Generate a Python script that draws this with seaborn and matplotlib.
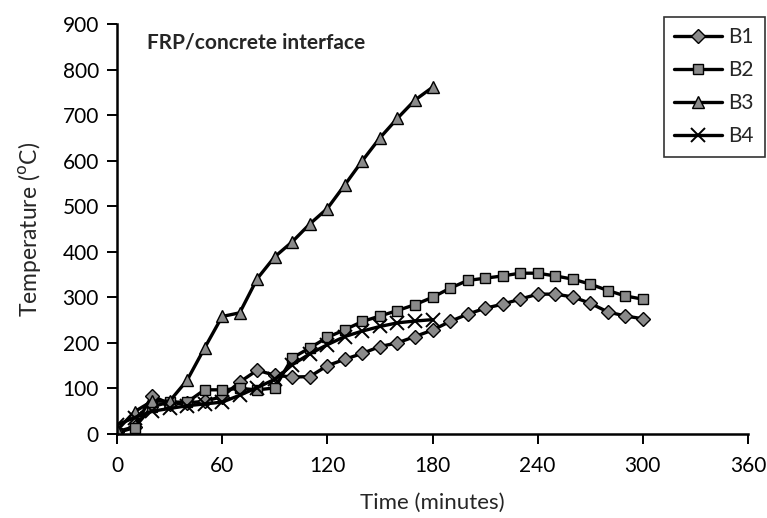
import numpy as np
import pandas as pd
import matplotlib
matplotlib.use("Agg")
import matplotlib.pyplot as plt
import seaborn as sns
from matplotlib.lines import Line2D

# ---- data ----
t_b1 = list(range(0, 301, 10))
b1 = [5, 16, 84, 66, 68, 72, 82, 114, 140, 129, 125, 126, 150, 164, 177, 192, 200, 214, 228,
      247, 263, 276, 285, 296, 307, 307, 301, 287, 268, 259, 253]
t_b2 = list(range(0, 301, 10))
b2 = [3, 14, 60, 70, 70, 97, 97, 100, 97, 101, 167, 189, 212, 229, 247, 259, 271, 284, 300,
      320, 337, 342, 347, 353, 353, 347, 340, 329, 315, 303, 296]
t_b3 = list(range(0, 181, 10))
b3 = [8, 49, 72, 72, 118, 189, 258, 266, 341, 389, 422, 461, 495, 547, 600, 650, 693, 733, 761]
t_b4 = list(range(0, 181, 10))
b4 = [20, 36, 50, 56, 62, 66, 70, 85, 102, 120, 152, 176, 196, 214, 226, 236, 244, 248, 251]

series_names = ["B1", "B2", "B3", "B4"]
markers = {"B1": "D", "B2": "s", "B3": "^", "B4": "x"}
msizes = {"B1": 7, "B2": 7.5, "B3": 9, "B4": 9.5}

frames = []
for name, t, v in zip(series_names, [t_b1, t_b2, t_b3, t_b4], [b1, b2, b3, b4]):
    frames.append(pd.DataFrame({"Time": t, "Temp": v, "Beam": name}))
df = pd.concat(frames, ignore_index=True)

sns.set_style("white")
plt.rcParams["font.family"] = ["Lato", "DejaVu Sans"]

fig = plt.figure(figsize=(7.67, 5.18), dpi=100)
ax = fig.add_axes([117/767, 1-434/518, (748-117)/767, (434-24)/518])

gray = "#8a8a8a"
handles = []
for name in series_names:
    sub = df[df["Beam"] == name]
    mk = markers[name]
    sns.lineplot(data=sub, x="Time", y="Temp", ax=ax, color="black", linewidth=2.4,
                 marker=mk, markersize=msizes[name], markerfacecolor=gray,
                 markeredgecolor="black", markeredgewidth=1.0 if mk != "x" else 1.4,
                 legend=False, sort=False)
    handles.append(Line2D([0], [0], color="black", linewidth=2.4, marker=mk,
                          markersize=msizes[name], markerfacecolor=gray,
                          markeredgecolor="black",
                          markeredgewidth=1.0 if mk != "x" else 1.4, label=name))

ax.set_xlim(0, 360)
ax.set_ylim(0, 900)
ax.set_xticks(range(0, 361, 60))
ax.set_yticks(range(0, 901, 100))
for s in ["top", "right"]:
    ax.spines[s].set_visible(False)
for s in ["left", "bottom"]:
    ax.spines[s].set_linewidth(1.8)
    ax.spines[s].set_color("black")
ax.tick_params(axis="both", direction="out", length=7, width=1.4, labelsize=15,
               colors="black", bottom=True, left=True)
ax.tick_params(axis="x", pad=9)
ax.tick_params(axis="y", pad=6)
ax.set_xlabel("Time (minutes)", fontsize=16, labelpad=12)
ax.set_ylabel("Temperature ($^{\\mathrm{o}}$C)", fontsize=16.5, labelpad=14)

ax.text(17, 860, "FRP/concrete interface", fontsize=15, fontweight="bold",
        ha="left", va="center", transform=ax.transData)

leg = fig.legend(handles=handles, loc="upper left",
                 bbox_to_anchor=(664/767, 1-17/518), fontsize=15,
                 frameon=True, fancybox=False, handlelength=2.3,
                 labelspacing=0.62, borderpad=0.5, handletextpad=0.3,
                 borderaxespad=0)
leg.get_frame().set_edgecolor("black")
leg.get_frame().set_linewidth(1.2)

fig.savefig("out.png", dpi=100)
